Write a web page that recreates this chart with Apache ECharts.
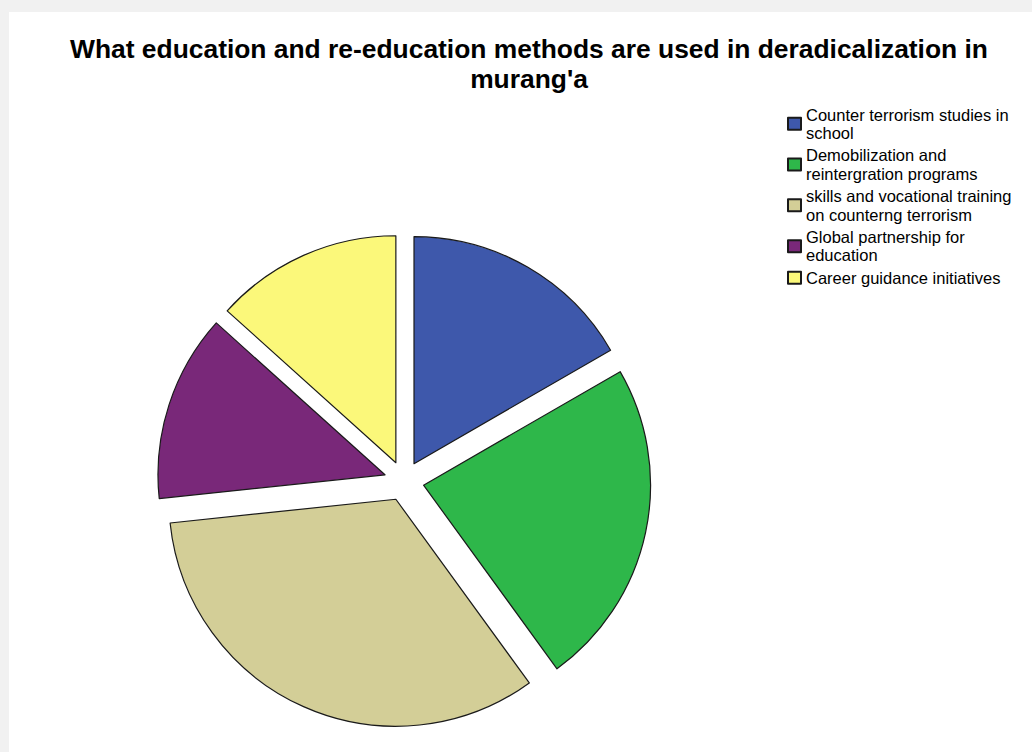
<!DOCTYPE html>
<html>
<head>
<meta charset="utf-8">
<script src="https://cdn.jsdelivr.net/npm/echarts@6/dist/echarts.min.js"></script>
<style>
html,body{margin:0;padding:0;background:#f1f1f1;}
#chart{width:1032px;height:752px;}
</style>
</head>
<body>
<div id="chart"></div>
<script>
const titleLines = ["What education and re-education methods are used in deradicalization in", "murang'a"];
const categories = [
  "Counter terrorism studies in school",
  "Demobilization and reintergration programs",
  "skills and vocational training on counterng terrorism",
  "Global partnership for education",
  "Career guidance initiatives"
];
const legendLabels = [
  "Counter terrorism studies in\nschool",
  "Demobilization and\nreintergration programs",
  "skills and vocational training\non counterng terrorism",
  "Global partnership for\neducation",
  "Career guidance initiatives"
];
const values = [5, 7, 10, 4, 4];
const colors = ["#3e58ab", "#2eb74a", "#d3ce97", "#792879", "#fbf87a"];

const chart = echarts.init(document.getElementById('chart'), null, {renderer: 'svg'});
chart.setOption({
  animation: false,
  backgroundColor: '#f1f1f1',
  graphic: [{
    type: 'rect', z: -10, silent: true,
    shape: {x: 9, y: 12, width: 1023, height: 740},
    style: {fill: '#ffffff'}
  }],
  title: {
    text: titleLines.join('\n'),
    left: 529, top: 34.5, padding: 0,
    textAlign: 'center',
    textStyle: {
      fontFamily: '"Liberation Sans", Arial, sans-serif',
      fontWeight: 'bold', fontSize: 26.4, lineHeight: 29.8, color: '#000'
    }
  },
  legend: {
    orient: 'vertical',
    left: 787, top: 105.25, padding: 0,
    itemWidth: 13, itemHeight: 12, itemGap: 3.8,
    icon: 'rect',
    selectedMode: false,
    data: categories,
    formatter: function (name) { return legendLabels[categories.indexOf(name)]; },
    textStyle: {
      fontFamily: '"Liberation Sans", Arial, sans-serif',
      fontSize: 16.5, lineHeight: 18.5, color: '#000'
    }
  },
  series: [{
    type: 'pie',
    center: [404, 481],
    radius: 227,
    startAngle: 90,
    clockwise: true,
    selectedMode: 'multiple',
    selectedOffset: 20,
    label: {show: false},
    labelLine: {show: false},
    emphasis: {disabled: true},
    itemStyle: {borderColor: '#1a1a1a', borderWidth: 1.2},
    data: categories.map((c, i) => ({
      name: c, value: values[i], selected: true,
      itemStyle: {color: colors[i]}
    }))
  }]
});
</script>
</body>
</html>
